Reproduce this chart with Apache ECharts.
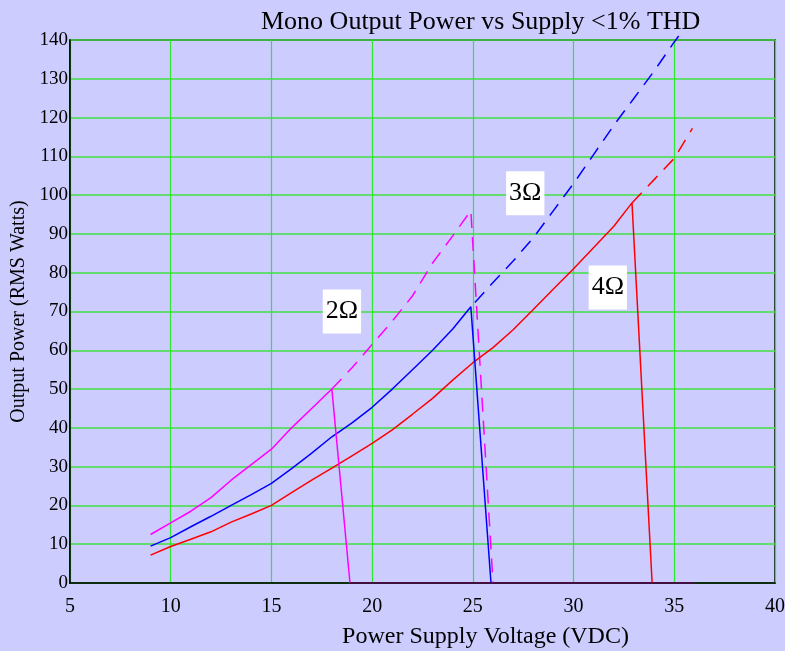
<!DOCTYPE html>
<html>
<head>
<meta charset="utf-8">
<script src="https://cdn.jsdelivr.net/npm/echarts@6/dist/echarts.min.js"></script>
<style>
  html, body { margin: 0; padding: 0; background: #ccccff; }
  #chart { width: 785px; height: 651px; }
</style>
</head>
<body>
<div id="chart"></div>
<script>
  // 2 ohm
  var volts2 = [9, 10, 11, 12, 13, 14, 15, 16, 17, 18, 18.9];
  var power2 = [12.5, 15.5, 18.5, 22, 26.5, 30.5, 34.5, 40, 45, 50, 0];
  var volts2Dash = [18, 19, 20, 21, 22, 23, 24, 24.9, 26];
  var power2Dash = [50, 55.5, 61.5, 67.5, 74, 82.5, 89.5, 96, 0];
  // 3 ohm
  var volts3 = [9, 10, 11, 12, 13, 14, 15, 16, 17, 18, 19, 20, 21, 22, 23, 24, 24.9, 25.9];
  var power3 = [9.5, 11.7, 14.5, 17.2, 20, 22.8, 25.7, 29.5, 33.5, 37.7, 41.3, 45.3, 50, 55, 60, 65.5, 71.2, 0];
  var volts3Dash = [25.1, 26, 27, 28, 29, 30, 31, 32, 33, 34, 35, 35.5];
  var power3Dash = [72.3, 77.5, 83, 89, 96, 103, 110.5, 118, 125, 132, 139.5, 143];
  // 4 ohm
  var volts4 = [9, 10, 11, 12, 13, 14, 15, 16, 17, 18, 19, 20, 21, 22, 23, 24, 25, 26, 27, 28, 29, 30, 31, 32, 32.9, 33.9];
  var power4 = [7.2, 9.4, 11.3, 13.2, 15.7, 17.8, 20, 23.3, 26.5, 29.6, 32.8, 36, 39.5, 43.5, 47.6, 52.3, 56.8, 60.7, 65.3, 70.5, 75.8, 81, 86.5, 92, 98, 0];
  var volts4Dash = [32.9, 34, 35, 35.9];
  var power4Dash = [98, 104, 109.5, 117.2];
  // all three curves sit at zero after cut-off, up to 36 V
  var voltsZero = [18.9, 36];
  var powerZero = [0, 0];
  // labels
  var labelText = ['2Ω', '3Ω', '4Ω'];
  var labelX = [18.5, 27.6, 31.7];
  var labelY = [70, 100.5, 76.2];

  function pairs(xs, ys) {
    var out = [];
    for (var i = 0; i < xs.length; i++) out.push([xs[i], ys[i]]);
    return out;
  }

  var serif = 'Liberation Serif';
  var chart = echarts.init(document.getElementById('chart'));

  function line(xs, ys, color, dashed, clip) {
    return {
      type: 'line',
      data: pairs(xs, ys),
      showSymbol: false,
      symbol: 'none',
      clip: clip,
      lineStyle: { color: color, width: 1.5, type: dashed ? [14, 9] : 'solid' },
      z: 3
    };
  }

  var labelData = [];
  for (var i = 0; i < labelText.length; i++) {
    labelData.push({ value: [labelX[i], labelY[i]], name: labelText[i] });
  }

  var option = {
    backgroundColor: '#ccccff',
    animation: false,
    title: {
      text: 'Mono Output Power vs Supply <1% THD',
      left: 256,
      top: 4,
      textStyle: { fontFamily: serif, fontSize: 26, fontWeight: 'normal', color: '#000' }
    },
    grid: {
      left: 70, right: 10, top: 40, bottom: 68,
      outerBoundsMode: 'none',
      containLabel: false,
      show: true, borderColor: '#000', borderWidth: 1.5, backgroundColor: 'transparent'
    },
    xAxis: {
      type: 'value',
      min: 5, max: 40, interval: 5,
      name: 'Power Supply Voltage (VDC)',
      nameLocation: 'middle',
      nameGap: 42,
      nameTextStyle: { fontFamily: serif, fontSize: 24, color: '#000', padding: [0, 0, 0, 126] },
      axisLine: { show: true, lineStyle: { color: '#000', width: 1.5 } },
      axisTick: { show: false },
      axisLabel: { fontFamily: serif, fontSize: 20, color: '#000', margin: 14 },
      splitLine: { show: true, lineStyle: { color: '#2ee82e', width: 1.2 } }
    },
    yAxis: {
      type: 'value',
      min: 0, max: 140, interval: 10,
      name: 'Output Power (RMS Watts)',
      nameLocation: 'middle',
      nameGap: 40,
      nameTextStyle: { fontFamily: serif, fontSize: 20, color: '#000' },
      axisLine: { show: true, lineStyle: { color: '#000', width: 1.5 } },
      axisTick: { show: false },
      axisLabel: { fontFamily: serif, fontSize: 19, color: '#000', margin: 2 },
      splitLine: { show: true, lineStyle: { color: '#40e040', width: 1.6 } }
    },
    series: [
      line(volts2Dash, power2Dash, '#ff00ff', true, true),
      line(volts3Dash, power3Dash, '#0000ff', true, false),
      line(volts4Dash, power4Dash, '#ff0000', true, true),
      line(volts4, power4, '#ff0000', false, true),
      line(volts3, power3, '#0000ff', false, true),
      line(volts2, power2, '#ff00ff', false, true),
      line(voltsZero, powerZero, '#5c005c', false, true),
      {
        type: 'scatter',
        data: labelData,
        symbolSize: 0,
        z: 5,
        itemStyle: { opacity: 1 },
        label: {
          show: true,
          position: 'inside',
          formatter: '{b}',
          fontFamily: serif,
          fontSize: 26,
          color: '#000',
          opacity: 1,
          backgroundColor: '#ffffff',
          padding: [9, 3, 9, 3]
        }
      }
    ]
  };
  chart.setOption(option);
</script>
</body>
</html>
